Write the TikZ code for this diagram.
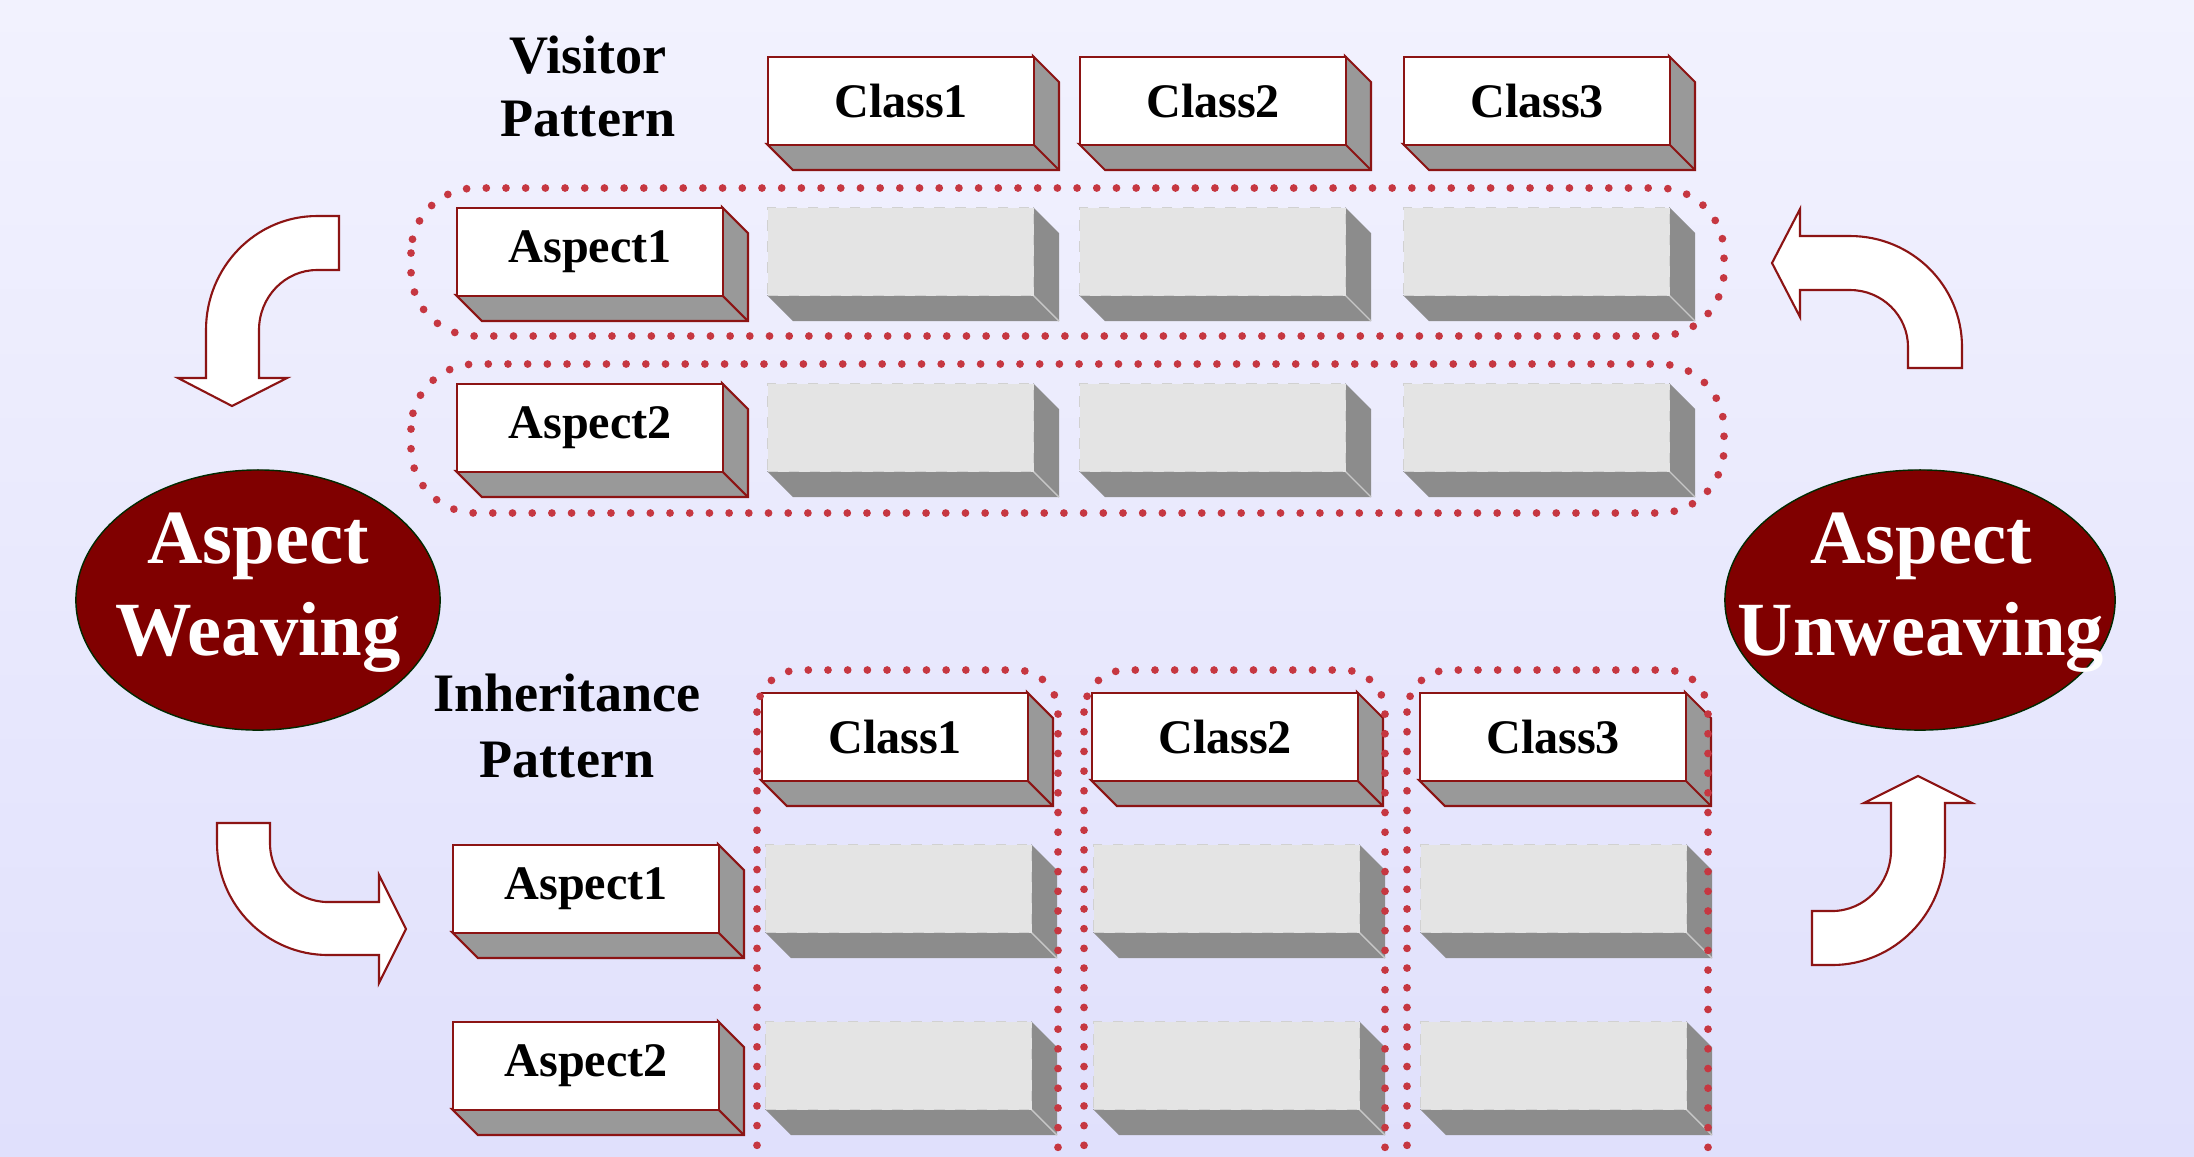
\documentclass[tikz,border=0pt]{standalone}
\usepackage{fontspec}
\setmainfont{Liberation Serif}
\usetikzlibrary{shapes.geometric}
\definecolor{boxred}{RGB}{140,20,20}
\definecolor{dotred}{RGB}{198,55,65}
\definecolor{sidegray}{RGB}{153,153,153}
\definecolor{phfront}{RGB}{228,228,228}
\definecolor{phside}{RGB}{140,140,140}
\definecolor{ellred}{RGB}{128,0,0}
\definecolor{bgtop}{RGB}{242,242,254}
\definecolor{bgbot}{RGB}{224,224,252}
\tikzset{
  frontbox/.style={draw=boxred, fill=white, line width=0.6pt, minimum width=2.66cm, minimum height=0.88cm, inner sep=0pt, font=\bfseries\fontsize{13.7}{16}\selectfont},
  phfrontbox/.style={draw=black!18, dashed, fill=phfront, line width=0.3pt, minimum width=2.66cm, minimum height=0.88cm, inner sep=0pt},
  solidside/.style={fill=sidegray, draw=boxred, line width=0.6pt, line join=miter},
  phsideface/.style={fill=phside},
  dotline/.style={draw=dotred, line width=2.2pt, line cap=round, dash pattern=on 0pt off 5.6pt},
  seclabel/.style={font=\bfseries\fontsize{15.4}{18}\selectfont, inner sep=0pt},
  elltext/.style={font=\bfseries\fontsize{21.8}{26}\selectfont, text=white, inner sep=0pt},
  ellnode/.style={ellipse, fill=ellred, draw=black!60!green!40!black, line width=0.4pt, minimum height=2.6cm, inner sep=0pt},
  blockarrow/.style={fill=white, draw=boxred, line width=0.6pt, line join=miter},
}
\newcommand{\solidbox}[4]{%
  \draw[solidside] (#2+266,#3) -- ++(26,26) -- ++(0,88) -- ++(-266,0) -- ++(-26,-26) -- ++(266,0) -- cycle;
  \draw[boxred, line width=0.6pt] (#2+266,#3+88) -- ++(26,26);
  \node[frontbox, anchor=north west] (#1) at (#2,#3) {#4};
}
\newcommand{\phbox}[3]{%
  \fill[phsideface] (#2+266,#3) -- ++(26,26) -- ++(0,88) -- ++(-266,0) -- ++(-26,-26) -- ++(266,0) -- cycle;
  \draw[black!22, line width=0.4pt] (#2+266,#3+88) -- ++(26,26);
  \node[phfrontbox, anchor=north west] (#1) at (#2,#3) {};
}
\begin{document}
\begin{tikzpicture}[x=0.01cm, y=-0.01cm]
\useasboundingbox (0,0) rectangle (2194,1156);
\clip (0,0) rectangle (2194,1156);
\shade[top color=bgtop, bottom color=bgbot] (0,0) rectangle (2194,1156);

% ---- top section: visitor pattern
\node[seclabel, anchor=base] (vis1) at (588,73) {Visitor};
\node[seclabel, anchor=base] (vis2) at (588,136) {Pattern};

\solidbox{tc1}{767}{56}{Class1}
\solidbox{tc2}{1079}{56}{Class2}
\solidbox{tc3}{1403}{56}{Class3}

\solidbox{ta1}{456}{207}{Aspect1}
\phbox{tp11}{767}{207}
\phbox{tp12}{1079}{207}
\phbox{tp13}{1403}{207}

\solidbox{ta2}{456}{383}{Aspect2}
\phbox{tp21}{767}{383}
\phbox{tp22}{1079}{383}
\phbox{tp23}{1403}{383}

\draw[dotline, rounded corners=0.65cm] (411,188) rectangle (1724,336);
\draw[dotline, rounded corners=0.65cm] (411,364) rectangle (1724,513);

% ---- bottom section: inheritance pattern
\node[seclabel, anchor=base] (inh1) at (567,711) {Inheritance};
\node[seclabel, anchor=base] (inh2) at (567,777) {Pattern};

\solidbox{bc1}{761}{692}{Class1}
\solidbox{bc2}{1091}{692}{Class2}
\solidbox{bc3}{1419}{692}{Class3}

\solidbox{ba1}{452}{844}{Aspect1}
\phbox{bp11}{765}{844}
\phbox{bp12}{1093}{844}
\phbox{bp13}{1420}{844}

\solidbox{ba2}{452}{1021}{Aspect2}
\phbox{bp21}{765}{1021}
\phbox{bp22}{1093}{1021}
\phbox{bp23}{1420}{1021}

\draw[dotline, rounded corners=0.42cm] (757,670) rectangle (1058,1260);
\draw[dotline, rounded corners=0.42cm] (1084,670) rectangle (1385,1260);
\draw[dotline, rounded corners=0.42cm] (1407,670) rectangle (1708,1260);

% ---- ellipses
\node[ellnode, minimum width=3.64cm] (weave) at (258,600) {};
\node[elltext, anchor=base] (weave1) at (258,563) {Aspect};
\node[elltext, anchor=base] (weave2) at (258,655) {Weaving};

\node[ellnode, minimum width=3.9cm] (unweave) at (1920,600) {};
\node[elltext, anchor=base] (unweave1) at (1921,563) {Aspect};
\node[elltext, anchor=base] (unweave2) at (1921,655) {Unweaving};

% ---- curved block arrows
% top-left (down)
\draw[blockarrow] (339,216) -- (317,216)
  .. controls (255.7,216) and (206,267) .. (206,330)
  -- (206,378) -- (178,378) -- (232,406) -- (287,378) -- (259,378) -- (259,330)
  .. controls (259,296.9) and (285,270) .. (317,270)
  -- (339,270) -- cycle;
% top-right (left)
\draw[blockarrow] (1962,368) -- (1962,347)
  .. controls (1962,285.7) and (1911.9,236) .. (1850,236)
  -- (1800,236) -- (1800,209) -- (1772,263) -- (1800,317) -- (1800,290) -- (1850,290)
  .. controls (1882,290) and (1908,315.5) .. (1908,347)
  -- (1908,368) -- cycle;
% bottom-left (right)
\draw[blockarrow] (217,823) -- (270,823) -- (270,843)
  .. controls (270,875.6) and (296,902) .. (328,902)
  -- (379,902) -- (379,875) -- (406,929) -- (379,983) -- (379,955) -- (328,955)
  .. controls (266.7,955) and (217,904.9) .. (217,843)
  -- cycle;
% bottom-right (up)
\draw[blockarrow] (1812,911) -- (1832,911)
  .. controls (1864.6,911) and (1891,883.7) .. (1891,850)
  -- (1891,803) -- (1864,803) -- (1918,776) -- (1972,803) -- (1945,803) -- (1945,850)
  .. controls (1945,913.5) and (1894.4,965) .. (1832,965)
  -- (1812,965) -- cycle;
\end{tikzpicture}
\end{document}
